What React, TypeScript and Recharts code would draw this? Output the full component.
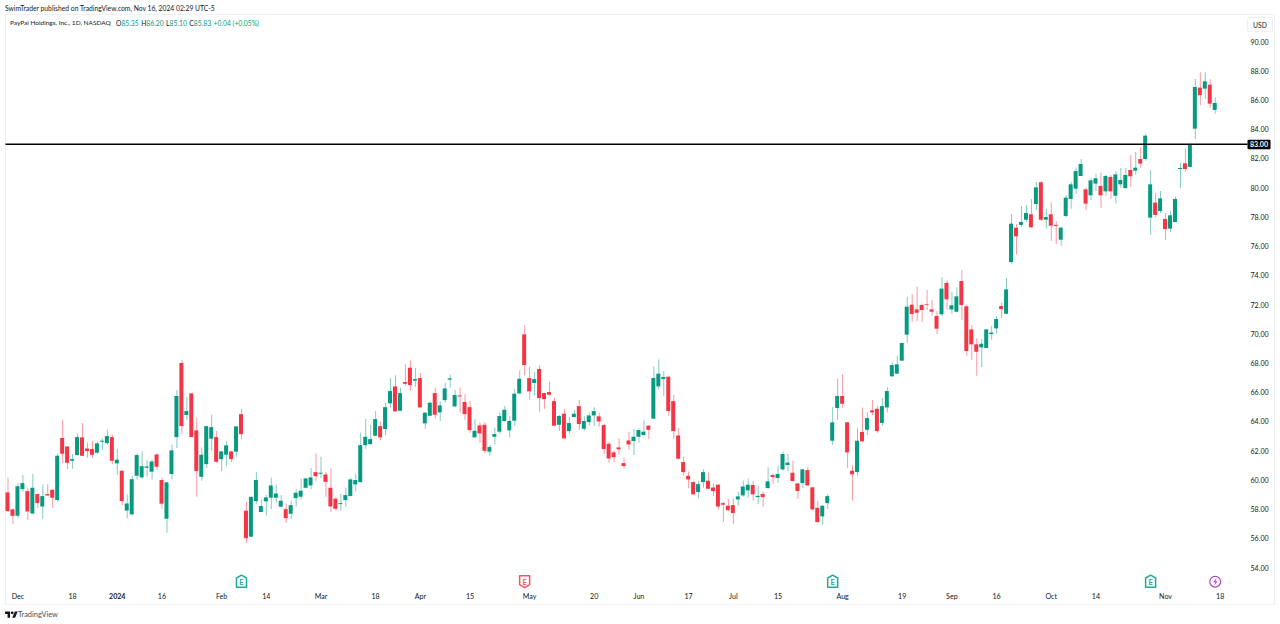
import { Bar, Cell, ComposedChart, ReferenceDot, ReferenceLine, XAxis, YAxis } from "recharts";

const highs = [
  60.18,58.08,59.79,60.36,59.45,60.43,59.10,59.72,59.74,59.40,
  61.84,64.12,62.34,61.80,63.21,63.92,62.59,62.69,62.66,62.85,
  63.48,63.12,62.14,60.70,59.03,60.31,61.84,61.98,61.38,61.43,
  61.84,60.20,59.90,62.43,66.18,68.23,65.70,65.97,64.28,62.25,
  63.74,64.49,63.37,62.00,62.69,62.00,63.71,64.88,58.51,58.87,
  60.56,58.69,58.99,60.20,59.72,58.99,58.42,58.60,59.40,60.13,
  60.15,60.84,61.84,61.61,60.59,60.81,58.88,59.06,59.51,60.20,
  60.43,63.28,64.19,63.78,64.74,64.01,65.31,66.98,67.20,66.34,
  67.94,68.21,67.71,67.34,64.69,65.42,66.34,65.42,66.68,67.25,
  66.18,66.36,65.90,65.42,64.19,63.96,63.99,62.41,63.62,64.65,
  65.08,64.38,66.25,67.52,70.63,67.78,67.41,67.87,66.00,66.77,
  65.65,64.47,64.90,64.35,64.81,65.49,64.38,64.65,65.01,64.65,
  63.85,62.64,62.05,62.87,61.57,63.30,63.53,63.55,64.12,63.78,
  67.80,68.27,67.48,67.14,65.84,63.58,61.61,60.61,59.93,59.97,
  60.75,60.54,59.79,59.74,58.49,58.72,58.76,59.22,59.97,60.13,
  59.97,59.65,59.24,60.89,60.47,60.98,61.98,61.80,61.32,59.81,
  60.77,60.93,59.56,58.60,58.31,59.06,65.02,66.96,67.28,63.97,
  61.05,63.56,64.99,64.65,65.50,65.11,65.63,66.39,68.07,68.53,
  69.42,72.57,72.75,73.25,72.11,73.03,72.34,71.59,73.92,73.67,
  72.91,73.21,74.40,72.04,70.63,69.72,69.67,70.36,70.58,71.25,
  72.15,73.84,78.23,77.55,78.78,78.85,79.26,80.42,80.47,78.57,
  79.01,77.75,77.34,79.51,80.44,81.42,82.00,80.05,80.69,80.99,
  81.06,80.92,80.90,81.15,81.38,81.40,82.27,82.47,82.79,83.68,
  81.24,79.69,79.80,78.30,78.43,79.42,81.72,82.72,83.07,87.47,87.93,87.93,87.45,86.20,
];

const lows = [
  57.85,57.03,57.41,59.22,57.28,57.69,58.10,57.37,58.92,58.10,
  58.53,61.18,60.77,60.79,61.68,61.66,61.57,61.52,61.84,62.07,
  62.41,61.11,60.38,58.30,57.41,57.60,60.04,60.11,60.24,60.06,
  60.70,58.05,56.41,60.08,62.21,63.19,64.12,62.94,58.87,59.97,
  60.84,62.02,61.18,60.63,60.97,61.25,61.61,62.82,55.73,56.14,
  58.40,57.83,57.60,58.03,58.46,58.15,57.10,57.35,58.19,58.69,
  59.45,59.40,59.97,60.18,58.88,57.83,57.92,57.92,58.19,58.92,
  59.24,59.83,62.16,62.41,63.03,62.75,63.10,64.99,64.69,64.74,
  66.45,66.13,66.41,64.97,63.53,64.40,64.24,64.06,65.33,66.34,
  65.01,64.65,64.15,63.26,62.91,62.57,61.91,61.68,62.46,63.17,
  64.01,62.94,63.71,65.90,67.20,65.49,65.84,64.69,64.90,65.77,
  63.71,63.39,62.85,63.19,64.31,63.46,63.39,63.74,63.71,63.67,
  61.80,61.18,61.23,61.73,60.81,62.09,61.73,62.57,63.05,62.82,
  64.19,66.20,65.79,64.40,62.87,61.45,60.31,59.45,59.01,58.78,
  59.49,59.40,58.92,58.01,57.16,57.89,57.00,58.26,58.88,58.81,
  58.60,58.40,58.19,59.43,59.77,59.81,60.63,60.63,59.93,58.72,
  59.47,59.63,57.96,57.12,56.94,58.03,62.41,64.13,64.97,60.84,
  58.60,60.29,62.60,63.10,64.47,63.26,63.72,64.65,67.05,67.28,
  68.17,69.42,70.86,70.90,70.84,71.66,71.29,70.01,71.27,71.70,
  71.38,71.52,70.97,68.53,68.23,67.16,67.75,69.06,69.60,70.06,
  71.08,71.38,74.83,75.45,77.34,77.70,77.29,78.50,77.75,77.23,
  76.40,76.18,76.04,78.00,78.59,79.60,80.83,78.50,79.17,79.80,
  78.64,79.48,79.26,78.94,80.03,79.96,80.08,80.92,81.40,81.88,
  76.81,78.00,78.28,76.45,77.00,77.68,80.01,81.13,81.42,83.36,85.69,86.10,85.51,85.10,
];

const opens = [
  59.17,58.01,57.57,59.40,59.26,57.73,59.06,58.21,59.06,59.35,
  58.65,62.89,62.32,61.34,61.73,62.94,62.18,62.14,61.89,62.64,
  62.55,62.96,61.16,60.65,57.94,57.67,60.31,60.20,60.86,60.59,
  61.77,60.02,57.37,60.43,62.96,68.03,64.47,65.95,63.42,60.24,
  61.11,62.85,62.96,61.45,61.75,61.98,61.96,64.53,57.92,56.14,
  58.58,57.83,58.56,58.81,58.81,58.19,58.03,57.71,58.78,58.88,
  59.49,59.65,60.56,60.45,60.40,59.49,58.74,58.37,58.65,58.92,
  59.72,59.88,62.41,62.48,63.05,63.71,63.51,65.27,66.43,64.76,
  66.73,67.71,66.82,67.00,63.90,64.42,65.97,64.65,65.49,66.89,
  65.06,65.81,65.36,65.01,62.94,63.76,63.80,61.96,62.98,63.33,
  64.06,63.42,64.08,65.95,69.99,67.00,66.66,67.62,65.97,66.04,
  65.42,63.80,64.56,63.37,64.33,65.08,63.53,63.99,64.44,64.38,
  63.78,62.50,61.91,62.25,61.18,62.73,62.69,62.98,63.10,63.74,
  64.22,66.43,66.93,67.09,65.42,63.07,61.25,60.31,59.88,59.20,
  59.88,59.97,59.51,59.70,58.44,58.26,58.30,58.69,58.97,59.31,
  59.68,58.85,59.06,59.47,60.36,60.16,60.75,61.05,60.52,59.79,
  59.81,60.70,59.52,58.12,57.53,58.44,62.71,64.95,65.77,63.97,
  60.66,60.57,63.31,63.46,64.79,64.90,63.92,64.99,67.12,67.30,
  68.19,69.97,72.02,71.70,72.00,72.07,71.70,71.25,71.36,73.51,
  71.70,71.54,73.64,71.91,70.33,69.31,69.10,69.06,70.01,70.40,
  71.93,71.40,74.94,77.29,77.48,77.84,78.21,78.91,80.40,77.84,
  78.21,77.48,76.47,78.09,79.26,79.96,80.83,79.92,79.51,80.31,
  80.15,79.78,80.76,79.48,80.26,80.01,81.24,81.20,81.99,81.99,
  77.98,79.01,78.43,77.89,77.23,77.68,81.31,81.70,81.45,84.07,86.88,86.81,87.08,85.35,
];

const closes = [
  57.89,57.57,59.60,59.81,57.87,59.49,58.44,58.92,58.97,58.81,
  61.68,61.82,61.20,61.45,62.96,61.68,62.00,61.75,62.53,62.71,
  63.03,61.34,61.41,58.58,58.42,60.08,61.73,60.97,60.95,61.29,
  60.93,58.40,59.86,62.05,65.77,63.71,64.74,62.96,60.63,61.75,
  63.71,63.64,61.27,61.98,62.39,61.45,63.69,63.16,56.04,58.87,
  60.02,58.24,58.83,59.65,59.10,58.60,57.41,58.30,59.15,59.29,
  60.13,60.20,60.29,60.52,59.90,58.21,58.05,58.44,58.99,60.06,
  60.02,62.41,62.98,62.82,64.19,62.94,65.01,66.11,64.72,65.97,
  66.61,66.52,66.93,64.99,64.63,65.31,64.49,65.13,66.29,66.98,
  65.84,65.74,64.53,63.44,63.39,63.21,62.02,62.28,63.17,64.40,
  64.83,64.06,65.93,66.95,67.89,66.09,66.93,65.63,65.56,65.86,
  63.74,64.40,62.87,63.92,64.56,63.85,64.06,64.44,64.74,64.03,
  62.14,61.50,61.59,62.12,60.98,62.46,62.98,63.44,63.33,63.46,
  67.00,67.30,67.07,64.74,63.37,61.48,60.56,60.06,59.04,59.74,
  60.56,59.42,59.26,58.21,58.33,57.96,57.76,58.90,59.58,59.70,
  59.04,58.94,58.85,59.93,60.22,60.43,61.80,61.21,59.95,59.27,
  60.75,59.65,58.01,57.14,58.26,58.92,63.97,65.77,65.24,61.91,
  60.41,62.71,62.67,64.26,64.65,63.37,65.08,66.11,67.89,67.94,
  69.40,71.89,71.38,71.47,71.66,72.02,71.54,70.38,73.12,72.39,
  71.98,72.59,72.00,68.85,69.31,68.80,69.35,70.33,70.11,71.04,
  71.72,73.07,77.57,76.70,77.68,78.30,77.32,80.05,77.84,78.02,
  77.43,77.41,77.29,79.35,80.26,81.17,81.65,78.94,80.53,80.67,
  79.51,80.83,79.78,80.94,80.56,80.90,80.81,81.40,81.68,83.59,
  80.26,78.16,79.30,77.20,78.14,79.26,81.38,81.31,83.02,86.92,86.37,87.31,85.78,85.83,
];

// bar index -> label on the time axis
const timeTicks: [number, string][] = [
  [2, "Dec"], [13, "18"], [22, "2024"], [31, "16"], [43, "Feb"], [52, "14"], [63, "Mar"], [74, "18"],
  [83, "Apr"], [93, "15"], [105, "May"], [118, "20"], [127, "Jun"], [137, "17"], [146, "Jul"], [155, "15"],
  [168, "Aug"], [180, "19"], [190, "Sep"], [199, "16"], [210, "Oct"], [219, "14"], [233, "Nov"], [244, "18"],
];

const priceTicks = [54, 56, 58, 60, 62, 64, 66, 68, 70, 72, 74, 76, 78, 80, 82, 84, 86, 88, 90];
const levelPrice = 83;
const earnings: [number, "up" | "down"][] = [[47, "up"], [104, "down"], [166, "up"], [230, "up"]];
const dividendBar = 243;
const markerPrice = 53.06;
const emptySlots = 6;

const GREEN = "#089981";
const RED = "#F23645";
const TEXT = "#131722";
const FONT = "Lato, sans-serif";
const FONT_SIZE = 7.1;
const HEAD_SIZE = 6.75;

const rows = [...highs, ...Array(emptySlots).fill(null)].map((_, i) =>
  i < highs.length
    ? { bar: i, wick: [lows[i], highs[i]], body: [opens[i], closes[i]], up: closes[i] >= opens[i] }
    : { bar: i }
);

const tickLabel = (v: number) => timeTicks.find((t) => t[0] === v)?.[1] ?? "";

function TimeTick({ x, y, payload }: any) {
  const label = tickLabel(payload.value);
  return (
    <text x={x} y={y + 3} textAnchor="middle" fontSize={FONT_SIZE} fontFamily={FONT} fill={TEXT} fontWeight={label === "2024" ? 700 : 400}>
      {label}
    </text>
  );
}

function EarningsBadge({ cx, cy, color, dir }: any) {
  const d =
    dir === "up"
      ? `M${cx} ${cy - 6.5}l5 2.8v9.2h-10v-9.2z`
      : `M${cx - 5} ${cy - 6}h10v8.8l-5 3.2l-5 -3.2z`;
  return (
    <g>
      <path d={d} fill="#fff" stroke={color} strokeWidth={1.5} strokeLinejoin="round" />
      <text x={cx} y={cy + 3} textAnchor="middle" fontSize={7.5} fontFamily={FONT} fontWeight={700} fill={color}>E</text>
    </g>
  );
}

function BoltBadge({ cx, cy }: any) {
  return (
    <g>
      <circle cx={cx} cy={cy} r={5.4} fill="#fff" stroke="#AB47BC" strokeWidth={1.2} />
      <path d={`M${cx + 1.4} ${cy - 3.6}l-3.4 4.2h2.2l-1.2 3.2l3.4 -4.2h-2.2z`} fill="#AB47BC" />
    </g>
  );
}

function LevelLabel({ viewBox }: any) {
  const right = viewBox.x + viewBox.width;
  return (
    <g>
      <rect x={right} y={viewBox.y - 4.5} width={23} height={9.5} rx={1} fill="#000" />
      <text x={right + 11.5} y={viewBox.y + 2.8} textAnchor="middle" fontSize={FONT_SIZE} fontWeight={700} fontFamily={FONT} fill="#fff">
        {levelPrice.toFixed(2)}
      </text>
    </g>
  );
}

function PriceChart() {
  return (
    <ComposedChart width={1280} height={624} data={rows} margin={{ top: 15, right: 0, bottom: 20, left: 5.5 }} style={{ position: "absolute", left: 0, top: 0 }}>
      <XAxis xAxisId="wicks" dataKey="bar" type="category" hide />
      <XAxis
        xAxisId="time"
        dataKey="bar"
        type="category"
        height={16}
        axisLine={false}
        tickLine={false}
        interval={0}
        ticks={timeTicks.map((t) => t[0])}
        tick={<TimeTick />}
      />
      <YAxis
        orientation="right"
        width={32.5}
        domain={[52.63, 91.85]}
        ticks={priceTicks}
        interval={0}
        axisLine={false}
        tickLine={false}
        tickSize={0}
        tickMargin={3}
        tickFormatter={(v: number) => v.toFixed(2)}
        tick={{ fontSize: FONT_SIZE, fontFamily: FONT, fill: TEXT }}
      />
      <Bar xAxisId="wicks" dataKey="wick" barSize={1} isAnimationActive={false} fillOpacity={0.5}>
        {rows.map((r: any) => <Cell key={r.bar} fill={r.up ? GREEN : RED} />)}
      </Bar>
      <Bar xAxisId="time" dataKey="body" barSize={4} isAnimationActive={false}>
        {rows.map((r: any) => <Cell key={r.bar} fill={r.up ? GREEN : RED} />)}
      </Bar>
      <ReferenceLine xAxisId="time" y={levelPrice} stroke="#000" strokeWidth={1.4} label={<LevelLabel />} />
      {earnings.map(([bar, dir]) => (
        <ReferenceDot
          key={bar}
          xAxisId="time"
          x={bar}
          y={markerPrice}
          shape={<EarningsBadge color={dir === "up" ? "#22AB94" : "#F7525F"} dir={dir} />}
        />
      ))}
      <ReferenceDot xAxisId="time" x={dividendBar} y={markerPrice} shape={<BoltBadge />} />
    </ComposedChart>
  );
}

export default function App() {
  return (
    <div style={{ position: "absolute", left: 0, top: 0, width: 1280, height: 624, background: "#fff", overflow: "hidden", fontFamily: FONT, color: TEXT, fontSize: HEAD_SIZE }}>
      <div style={{ position: "absolute", left: 5, top: 14, width: 1268, height: 589, border: "1px solid #EEF0F3" }} />
      <PriceChart />
      <div style={{ position: "absolute", left: 5, top: 3.5, whiteSpace: "nowrap" }}>
        SwimTrader published on TradingView.com, Nov 16, 2024 02:29 UTC-5
      </div>
      <div style={{ position: "absolute", left: 10, top: 18.5, whiteSpace: "nowrap", fontSize: 6.5 }}>
        PayPal Holdings, Inc., 1D, NASDAQ
      </div>
      <div style={{ position: "absolute", left: 116, top: 18.5, whiteSpace: "nowrap" }}>
        <span>O<span style={{ color: GREEN }}>85.35</span></span>
        <span style={{ marginLeft: 2.5 }}>H<span style={{ color: GREEN }}>86.20</span></span>
        <span style={{ marginLeft: 2.5 }}>L<span style={{ color: GREEN }}>85.10</span></span>
        <span style={{ marginLeft: 2.5 }}>C<span style={{ color: GREEN }}>85.83</span></span>
        <span style={{ marginLeft: 2.5, color: GREEN }}>+0.04 (+0.05%)</span>
      </div>
      <div style={{ position: "absolute", left: 1247, top: 17, width: 24, height: 13, border: "1px solid #EEF0F3", borderRadius: 2, textAlign: "center", lineHeight: "14px", boxSizing: "content-box" }}>
        USD
      </div>
      <svg style={{ position: "absolute", left: 5, top: 610 }} width={13} height={10} viewBox="0 0 36 28">
        <path d="M14 22H7V11H0V4h14v18zM28 22h-8l7.5-18h8L28 22z" fill="#131722" />
        <circle cx={20} cy={8} r={4} fill="#131722" />
      </svg>
      <div style={{ position: "absolute", left: 18, top: 609.5, fontSize: 7.4, color: "#4A4E59", whiteSpace: "nowrap" }}>TradingView</div>
    </div>
  );
}
